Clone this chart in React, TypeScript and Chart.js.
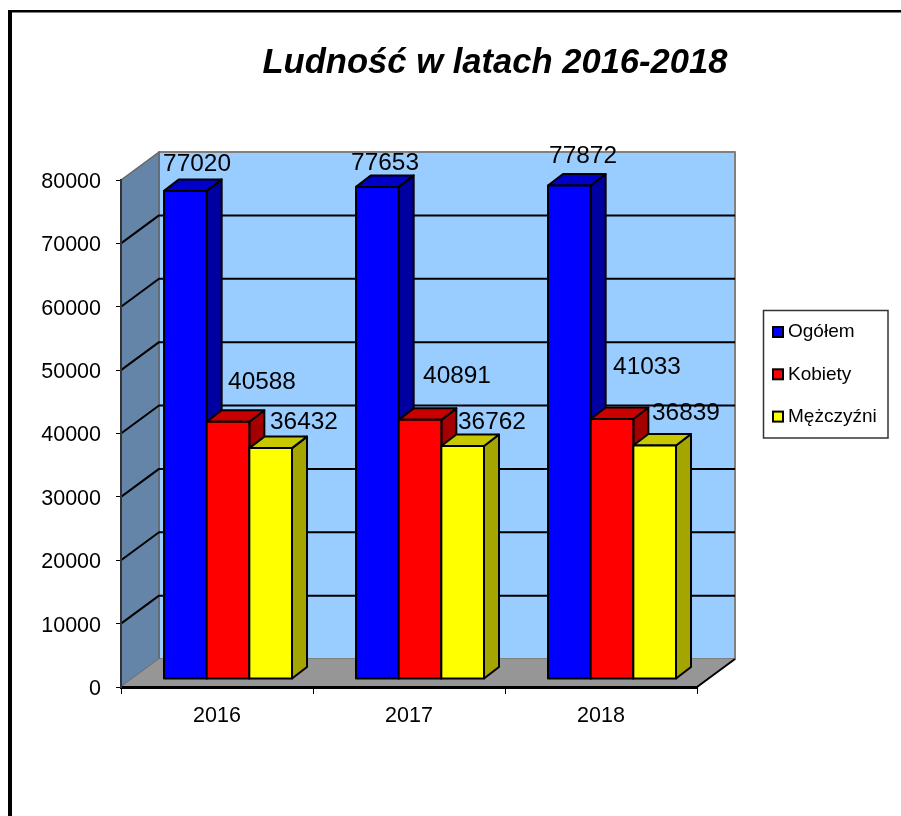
import React, { useEffect, useRef } from "react";
import { Chart, registerables } from "chart.js";

Chart.register(...registerables);

const categories = ["2016", "2017", "2018"];
const seriesNames = ["Ogółem", "Kobiety", "Mężczyźni"];
const ogolem = [77020, 77653, 77872];
const kobiety = [40588, 40891, 41033];
const mezczyzni = [36432, 36762, 36839];
const yTickMax = 80000;
const yTickStep = 10000;

// Style tables, kept apart from the values
const FONT = "'Liberation Sans', Arial, sans-serif";
const frontColors = ["#0000FF", "#FF0000", "#FFFF00"];
const topColors = ["#0000C8", "#C80000", "#C8C800"];
const sideColors = ["#0000A0", "#A50000", "#A5A500"];
// The hand-placed data labels of the original: pixel offset from each bar's top
const labelOffsets = [
  [[22.7, -36], [18.7, -33], [24.7, -38.5]],
  [[45, -49], [48, -53], [46, -61]],
  [[44.3, -35], [40.3, -33], [42.3, -41.5]],
];
const WALL_DX = 38;
const WALL_DY = -28;
const BAR_SHIFT_X = 11;
const BAR_SHIFT_Y = -8;
const BAR_DX = 15;
const BAR_DY = -11.5;

function poly(ctx: CanvasRenderingContext2D, pts: number[][], fill?: string, stroke?: string, lw = 1) {
  ctx.beginPath();
  pts.forEach(([x, y], i) => (i ? ctx.lineTo(x, y) : ctx.moveTo(x, y)));
  ctx.closePath();
  if (fill) {
    ctx.fillStyle = fill;
    ctx.fill();
  }
  if (stroke) {
    ctx.strokeStyle = stroke;
    ctx.lineWidth = lw;
    ctx.lineJoin = "round";
    ctx.stroke();
  }
}

const scene3d = {
  id: "scene3d",
  afterLayout(chart: any) {
    // centre the title over the original's position
    chart.titleBlock.left = 0;
    chart.titleBlock.right = 990;
  },
  beforeDraw(chart: any) {
    const { ctx, chartArea: a, scales } = chart;
    const y = scales.y;
    ctx.save();
    ctx.fillStyle = "#FFFFFF";
    ctx.fillRect(0, 0, chart.width, chart.height);
    // outer frame
    ctx.fillStyle = "#000000";
    ctx.fillRect(8, 10, chart.width, 2.5);
    ctx.fillRect(8, 10, 4, chart.height);

    const top = y.getPixelForValue(yTickMax);
    const bot = y.getPixelForValue(0);
    // back wall
    poly(ctx, [[a.left + WALL_DX, top + WALL_DY], [a.right + WALL_DX, top + WALL_DY], [a.right + WALL_DX, bot + WALL_DY], [a.left + WALL_DX, bot + WALL_DY]], "#99CCFF", "#808080", 2);
    // left wall
    poly(ctx, [[a.left, top], [a.left + WALL_DX, top + WALL_DY], [a.left + WALL_DX, bot + WALL_DY], [a.left, bot]], "#6485A8", "#666666", 1.5);
    // floor
    poly(ctx, [[a.left, bot], [a.left + WALL_DX, bot + WALL_DY], [a.right + WALL_DX, bot + WALL_DY], [a.right, bot]], "#969696");
    ctx.strokeStyle = "#000000";
    ctx.lineWidth = 2;
    ctx.beginPath();
    ctx.moveTo(a.right, bot);
    ctx.lineTo(a.right + WALL_DX, bot + WALL_DY);
    ctx.stroke();
    // grid lines on left and back walls
    for (let v = yTickStep; v < yTickMax; v += yTickStep) {
      const p = y.getPixelForValue(v);
      ctx.beginPath();
      ctx.moveTo(a.left, p);
      ctx.lineTo(a.left + WALL_DX, p + WALL_DY);
      ctx.lineTo(a.right + WALL_DX, p + WALL_DY);
      ctx.stroke();
    }
    ctx.restore();
  },
  beforeDatasetDraw() {
    return false; // bars are painted left to right below
  },
  afterDatasetsDraw(chart: any) {
    const { ctx } = chart;
    ctx.save();
    ctx.translate(BAR_SHIFT_X, BAR_SHIFT_Y);
    chart.data.labels.forEach((_: string, i: number) => {
      chart.data.datasets.forEach((_d: any, j: number) => {
        const el = chart.getDatasetMeta(j).data[i];
        const { x, y, base, width } = el.getProps(["x", "y", "base", "width"], true);
        const l = x - width / 2;
        const r = x + width / 2;
        poly(ctx, [[r, y], [r + BAR_DX, y + BAR_DY], [r + BAR_DX, base + BAR_DY], [r, base]], sideColors[j], "#000000", 2);
        poly(ctx, [[l, y], [l + BAR_DX, y + BAR_DY], [r + BAR_DX, y + BAR_DY], [r, y]], topColors[j], "#000000", 2);
        el.draw(ctx, chart.chartArea);
        poly(ctx, [[l, y], [r, y], [r, base], [l, base]], undefined, "#000000", 2);
      });
    });
    ctx.restore();

    // data labels
    ctx.save();
    ctx.fillStyle = "#000000";
    ctx.font = `24.4px ${FONT}`;
    ctx.textAlign = "center";
    ctx.textBaseline = "middle";
    chart.data.datasets.forEach((ds: any, j: number) => {
      chart.getDatasetMeta(j).data.forEach((el: any, i: number) => {
        const [ox, oy] = labelOffsets[j][i];
        ctx.fillText(String(ds.data[i]), el.x + ox, el.y + oy + 1.5);
      });
    });
    ctx.restore();

    // legend
    ctx.save();
    ctx.strokeStyle = "#333333";
    ctx.lineWidth = 1.5;
    ctx.strokeRect(763.5, 310.5, 124.5, 127.5);
    ctx.font = `19px ${FONT}`;
    ctx.textBaseline = "middle";
    ctx.textAlign = "left";
    chart.data.datasets.forEach((ds: any, j: number) => {
      const cy = 332 + j * 42.3;
      ctx.fillStyle = frontColors[j];
      ctx.fillRect(773, cy - 5, 10, 10);
      ctx.strokeStyle = "#000000";
      ctx.lineWidth = 2;
      ctx.strokeRect(773, cy - 5, 10, 10);
      ctx.fillStyle = "#000000";
      ctx.fillText(ds.label, 788, cy);
    });
    ctx.restore();
  },
};

export default function App() {
  const ref = useRef<HTMLCanvasElement>(null);
  useEffect(() => {
    const chart = new Chart(ref.current as HTMLCanvasElement, {
      type: "bar",
      data: {
        labels: categories,
        datasets: [ogolem, kobiety, mezczyzni].map((data, j) => ({
          label: seriesNames[j],
          data,
          backgroundColor: frontColors[j],
          borderWidth: 0,
          categoryPercentage: 2 / 3,
          barPercentage: 1,
        })),
      },
      options: {
        responsive: false,
        animation: false,
        layout: { padding: { left: 0, right: 204, top: 0, bottom: 0 } },
        plugins: {
          legend: { display: false },
          tooltip: { enabled: false },
          title: {
            display: true,
            text: "Ludność w latach 2016-2018",
            color: "#000000",
            font: { family: FONT, size: 34.6, weight: "bold", style: "italic", lineHeight: 1.2 },
            padding: { top: 42.5, bottom: 96 },
          },
        },
        scales: {
          x: {
            afterFit: (s: any) => {
              s.height = 129;
            },
            grid: { offset: true, drawOnChartArea: false, color: "#000000", tickLength: 7 },
            border: { color: "#000000", width: 3 },
            ticks: { color: "#000000", font: { family: FONT, size: 21.5 }, padding: 9, maxRotation: 0 },
          },
          y: {
            min: 0,
            max: yTickMax,
            afterFit: (s: any) => {
              s.width = 121;
            },
            grid: { drawOnChartArea: false, color: "#000000", tickLength: 5 },
            border: { color: "#333333", width: 2 },
            ticks: {
              stepSize: yTickStep,
              color: "#000000",
              font: { family: FONT, size: 21.5 },
              padding: 15,
              labelOffset: 2,
              callback: (v: any) => String(v),
            },
          },
        },
      },
      plugins: [scene3d],
    } as any);
    return () => chart.destroy();
  }, []);
  return (
    <canvas
      ref={ref}
      width={901}
      height={816}
      style={{ position: "absolute", left: 0, top: 0, width: 901, height: 816, display: "block" }}
    />
  );
}
